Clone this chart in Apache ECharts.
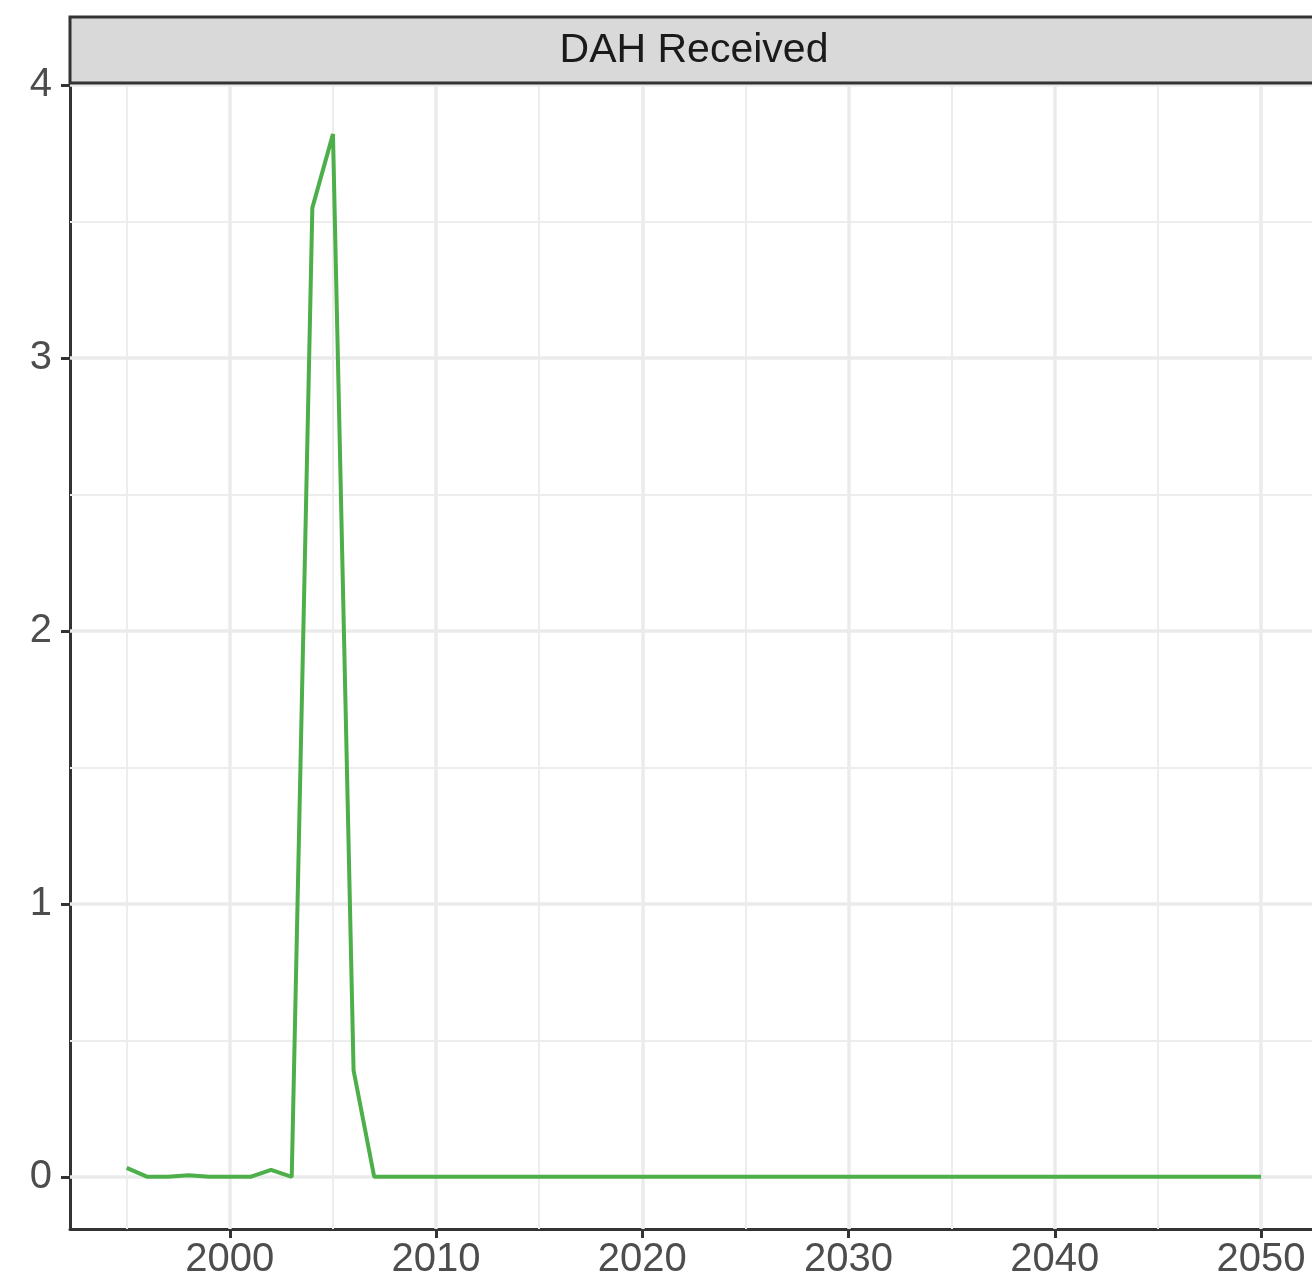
<!DOCTYPE html>
<html><head><meta charset="utf-8">
<script src="https://cdn.jsdelivr.net/npm/echarts@6/dist/echarts.min.js"></script>
<style>html,body{margin:0;padding:0;background:#fff}#c{width:1312px;height:1284px}</style>
</head><body><div id="c"></div>
<script>
const years = [1995,1996,1997,1998,1999,2000,2001,2002,2003,2004,2005,2006,2007,2008,2009,2010,2011,2012,2013,2014,2015,2016,2017,2018,2019,2020,2021,2022,2023,2024,2025,2026,2027,2028,2029,2030,2031,2032,2033,2034,2035,2036,2037,2038,2039,2040,2041,2042,2043,2044,2045,2046,2047,2048,2049,2050];
const values = [0.033,0,0,0.006,0,0,0,0.026,0,3.55,3.82,0.39,0,0,0,0,0,0,0,0,0,0,0,0,0,0,0,0,0,0,0,0,0,0,0,0,0,0,0,0,0,0,0,0,0,0,0,0,0,0,0,0,0,0,0,0];
const xTicks = [2000,2010,2020,2030,2040,2050];
const xMinor = [1995,2005,2015,2025,2035,2045];
const yTicks = [0,1,2,3,4];
const yMinor = [0.5,1.5,2.5,3.5];
const stripTitle = 'DAH Received';

const FONT = '"Liberation Sans", Arial, sans-serif';
const major = {color:'#EBEBEB', width:3.5, type:'solid'};
const minor = {color:'#EDEDED', width:2, type:'solid'};
const gridLines = []
  .concat(xMinor.map(v=>({xAxis:v, lineStyle:minor})))
  .concat(yMinor.map(v=>({yAxis:v, lineStyle:minor})))
  .concat(xTicks.map(v=>({xAxis:v, lineStyle:major})))
  .concat(yTicks.map(v=>({yAxis:v, lineStyle:major})));

const chart = echarts.init(document.getElementById('c'), null, {renderer:'canvas'});
chart.setOption({
  animation:false,
  backgroundColor:'#ffffff',
  grid:{left:70, right:0, top:82, bottom:55, containLabel:false},
  xAxis:{type:'value', min:1992.25, max:2052.47,
    axisLine:{show:true, onZero:false, lineStyle:{color:'#333333', width:3}},
    axisTick:{show:true, length:9, customValues:xTicks, lineStyle:{color:'#333333', width:3}},
    axisLabel:{customValues:xTicks, formatter:v=>String(v), color:'#4D4D4D', fontSize:40, fontFamily:FONT, margin:11},
    splitLine:{show:false}},
  yAxis:{type:'value', min:-0.191, max:4.011,
    axisLine:{show:true, onZero:false, lineStyle:{color:'#333333', width:3}},
    axisTick:{show:true, length:9, customValues:yTicks, lineStyle:{color:'#333333', width:3}},
    axisLabel:{customValues:yTicks, formatter:v=>String(v), color:'#4D4D4D', fontSize:40, fontFamily:FONT, margin:18},
    splitLine:{show:false}},
  series:[
    {type:'line', name:'grid', data:years.map((y,i)=>[y,values[i]]), z:1, silent:true,
     showSymbol:false, symbol:'none', lineStyle:{opacity:0},
     markLine:{silent:true, symbol:['none','none'], label:{show:false}, animation:false, data:gridLines}},
    {type:'line', name:'DAH', data:years.map((y,i)=>[y,values[i]]), z:5,
     showSymbol:false, symbol:'none', lineStyle:{color:'#4DAF4A', width:4}}
  ],
  graphic:[
    {type:'rect', shape:{x:70, y:17, width:1300, height:66}, style:{fill:'#D9D9D9', stroke:'#333333', lineWidth:3}, z:10},
    {type:'text', x:694, y:51, style:{text:stripTitle, font:'41px '+FONT, fill:'#1A1A1A', align:'center', verticalAlign:'middle'}, z:11}
  ]
});
</script></body></html>
